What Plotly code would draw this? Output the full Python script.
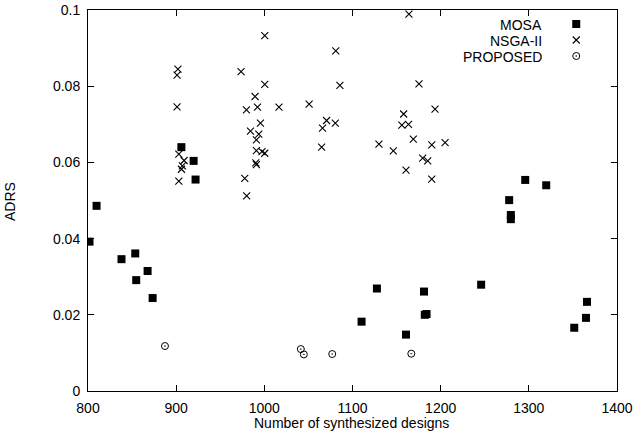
import plotly.graph_objects as go

mosa_x = [801.7, 809.7, 838, 853.6, 854.7, 867.6, 873.3, 905.9, 919.8, 922,
          1110.3, 1127.7, 1160.7, 1181.1, 1182, 1184, 1245.9, 1277.7, 1279.6, 1279.6,
          1295.9, 1319.7, 1351.5, 1364.8, 1366]
mosa_y = [0.0392, 0.0486, 0.0346, 0.0361, 0.0291, 0.0315, 0.0244, 0.0640, 0.0604, 0.0555,
          0.0182, 0.0269, 0.0148, 0.0261, 0.0200, 0.0202, 0.0279, 0.0501, 0.0462, 0.0451,
          0.0554, 0.0540, 0.0166, 0.0192, 0.0234]

nsga_x = [902, 901, 901, 903, 909, 907, 906, 903,
          973.6, 1000.5, 1000.5, 989.5, 979.7, 992.2, 1016.6, 1050.8, 995.6, 984.3,
          993.7, 991, 991, 997.4, 1000.5, 990.3, 991, 977.8, 980,
          1081, 1085.7, 1070.6, 1080.5, 1066, 1065,
          1164, 1175.4, 1158, 1156, 1163.5, 1193.6, 1169, 1130, 1146.3, 1189.9,
          1205, 1179.6, 1185.3, 1160.7, 1189.9]
nsga_y = [0.0845, 0.0829, 0.0746, 0.0622, 0.0605, 0.0591, 0.0582, 0.0551,
          0.0838, 0.0933, 0.0805, 0.0773, 0.0738, 0.0745, 0.0745, 0.0753, 0.0703, 0.0682,
          0.0674, 0.0659, 0.0631, 0.0628, 0.0624, 0.0599, 0.0594, 0.0558, 0.0512,
          0.0893, 0.0802, 0.0710, 0.0703, 0.0690, 0.0640,
          0.0989, 0.0806, 0.0727, 0.0698, 0.0700, 0.0740, 0.0661, 0.0648, 0.0630, 0.0646,
          0.0652, 0.0611, 0.0604, 0.0580, 0.0556]

prop_x = [887.3, 1041.4, 1044.8, 1077, 1166.7]
prop_y = [0.0118, 0.0110, 0.0096, 0.0097, 0.0098]

series_names = ["MOSA", "NSGA-II", "PROPOSED"]
x_ticks = [800, 900, 1000, 1100, 1200, 1300, 1400]
y_ticks = [0, 0.02, 0.04, 0.06, 0.08, 0.1]
y_tick_text = ["0", "0.02", "0.04", "0.06", "0.08", "0.1"]
x_title = "Number of synthesized designs"
y_title = "ADRS"

FONT = "Liberation Sans, Arial, Helvetica, sans-serif"

sq = dict(symbol="square", size=8, color="black", line=dict(width=0))
cr = dict(symbol="x-thin-open", size=7, color="black", line=dict(width=1.1, color="black"))
ci = dict(symbol="circle-open-dot", size=7, color="black", line=dict(width=1, color="black"))
styles = [sq, cr, ci]

fig = go.Figure()
fig.add_trace(go.Scatter(x=mosa_x, y=mosa_y, mode="markers", marker=sq, name=series_names[0]))
fig.add_trace(go.Scatter(x=nsga_x, y=nsga_y, mode="markers", marker=cr, name=series_names[1]))
fig.add_trace(go.Scatter(x=prop_x, y=prop_y, mode="markers", marker=ci, name=series_names[2]))

# custom legend (text right-aligned, sample on the right) on an overlay pixel axis
leg_y = [24, 40, 56]
for i, nm in enumerate(series_names):
    fig.add_trace(go.Scatter(x=[576], y=[leg_y[i]], mode="markers", marker=styles[i],
                             xaxis="x2", yaxis="y2", showlegend=False, hoverinfo="skip"))
    fig.add_annotation(x=544, y=leg_y[i] + 1, xref="x2", yref="y2", text=nm, showarrow=False,
                       xanchor="right", yanchor="middle",
                       font=dict(family=FONT, size=14, color="black"))

# axis titles as annotations in paper coordinates (plot area: x 88..617, y 10..391 px)
fig.add_annotation(x=0.499, y=-0.084, xref="paper", yref="paper", text=x_title,
                   showarrow=False, xanchor="center", yanchor="middle",
                   font=dict(family=FONT, size=14, color="black"))
fig.add_annotation(x=-0.1475, y=0.4987, xref="paper", yref="paper", text=y_title,
                   showarrow=False, textangle=-90, xanchor="center", yanchor="middle",
                   font=dict(family=FONT, size=14, color="black"))

axis_common = dict(showgrid=False, zeroline=False, showline=True, linecolor="black",
                   linewidth=1, mirror="allticks", ticks="inside", ticklen=6,
                   tickcolor="black", tickwidth=1, ticklabelstandoff=4,
                   ticklabeloverflow="allow", automargin=False,
                   tickfont=dict(family=FONT, size=14, color="black"))

fig.update_layout(
    width=637, height=441,
    margin=dict(l=88, r=20, t=10, b=50, autoexpand=False),
    paper_bgcolor="white", plot_bgcolor="white",
    showlegend=False,
    xaxis=dict(range=[800, 1400], tickvals=x_ticks, **axis_common),
    yaxis=dict(range=[0, 0.1], tickvals=y_ticks, ticktext=y_tick_text, **axis_common),
    xaxis2=dict(overlaying="x", range=[88.5, 616.7], visible=False, fixedrange=True),
    yaxis2=dict(overlaying="y", range=[391, 10], visible=False, fixedrange=True),
)

# remove the browser's default 8px body margin so the figure fills the window exactly
fig.write_html("out.html", config={"displayModeBar": False},
               post_script="document.body.style.margin='0';")
